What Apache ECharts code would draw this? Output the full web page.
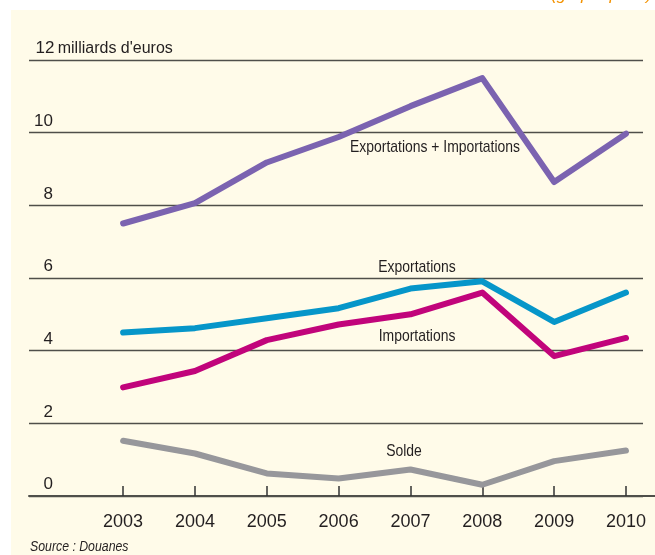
<!DOCTYPE html>
<html>
<head>
<meta charset="utf-8">
<script src="https://cdn.jsdelivr.net/npm/echarts@6/dist/echarts.min.js"></script>
<style>
  html, body { margin: 0; padding: 0; background: #fff; }
  #chart { width: 655px; height: 555px; }
</style>
</head>
<body>
<div id="chart"></div>
<script>
// données (milliards d'euros)
const years = [2003, 2004, 2005, 2006, 2007, 2008, 2009, 2010]
const total = [7.5, 8.06, 9.18, 9.88, 10.73, 11.5, 8.64, 9.97]
const exportations = [4.5, 4.62, 4.89, 5.17, 5.71, 5.91, 4.79, 5.6]
const importations = [2.99, 3.44, 4.29, 4.72, 5.0, 5.6, 3.85, 4.35]
const solde = [1.52, 1.17, 0.62, 0.48, 0.73, 0.31, 0.96, 1.25]
const yTicks = [0, 2, 4, 6, 8, 10, 12]
const unit = "milliards d'euros"

// pas de police étroite installée : on compresse les textes libres
const FONT = '"Liberation Sans", Arial, sans-serif'
const NARROW = 0.82
const TEXT = '#231f20'

const pairs = vals => years.map((y, i) => [y, vals[i]])

const mkLine = (name, vals, color) => ({
  name,
  type: 'line',
  data: pairs(vals),
  symbol: 'none',
  silent: true,
  z: 5,
  lineStyle: { color, width: 6, cap: 'round', join: 'round' }
})

const chart = echarts.init(document.getElementById('chart'), null, { renderer: 'canvas' })

const annot = (text, x, y, size) => ({
  type: 'text',
  x, y,
  scaleX: NARROW,
  z: 20,
  style: {
    text,
    fill: TEXT,
    font: `${size || 17}px ${FONT}`,
    textAlign: 'center',
    textVerticalAlign: 'middle'
  }
})

const option = {
  backgroundColor: '#ffffff',
  animation: false,
  grid: { left: 29, right: 12, top: 60, bottom: 59, containLabel: false },
  xAxis: {
    type: 'value',
    min: 2001.69,
    max: 2010.237,
    splitLine: { show: false },
    axisLine: { show: true, onZero: false, lineStyle: { color: '#4f4f4a', width: 2 } },
    axisTick: {
      show: true,
      inside: true,
      length: 10,
      customValues: years,
      lineStyle: { color: '#333', width: 1.5 }
    },
    axisLabel: {
      customValues: years,
      margin: 17,
      color: TEXT,
      fontFamily: FONT,
      fontSize: 18,
      formatter: v => String(v)
    }
  },
  yAxis: {
    type: 'value',
    min: 0,
    max: 12,
    interval: 2,
    axisLine: { show: false },
    axisTick: { show: false },
    splitLine: { show: true, lineStyle: { color: '#4f4f4a', width: 1.4 } },
    axisLabel: {
      inside: true,
      margin: 8,
      verticalAlign: 'bottom',
      padding: [0, 0, 3, 0],
      color: TEXT,
      fontFamily: FONT,
      fontSize: 17,
      formatter: v => {
        if (!yTicks.includes(v)) return ''
        return v === 12 ? `{n|${v}} {u|${unit}}` : `{n|${v}}`
      },
      rich: {
        n: { width: 16, align: 'right', fontFamily: FONT, fontSize: 17, color: TEXT },
        u: { fontFamily: FONT, fontSize: 16, color: TEXT }
      }
    }
  },
  graphic: [
    {
      type: 'rect',
      z: -10,
      shape: { x: 11, y: 10, width: 660, height: 560 },
      style: { fill: '#fffbe9' }
    },
    {
      type: 'line',
      z: 1,
      shape: { x1: 642, y1: 496, x2: 655, y2: 496 },
      style: { stroke: '#4f4f4a', lineWidth: 2 }
    },
    {
      type: 'text',
      x: 652,
      y: -13,
      z: 20,
      style: {
        text: '(graphique 1)',
        fill: '#f39200',
        font: `italic 17px ${FONT}`,
        textAlign: 'right'
      }
    },
    annot('Exportations + Importations', 435, 147),
    annot('Exportations', 417, 267),
    annot('Importations', 417, 336),
    annot('Solde', 404, 451),
    {
      type: 'text',
      x: 30,
      y: 547,
      scaleX: NARROW,
      z: 20,
      style: {
        text: 'Source : Douanes',
        fill: TEXT,
        font: `italic 15px ${FONT}`,
        textVerticalAlign: 'middle'
      }
    }
  ],
  series: [
    mkLine('Solde', solde, '#97979b'),
    mkLine('Importations', importations, '#c1047b'),
    mkLine('Exportations', exportations, '#0696c9'),
    mkLine('Exportations + Importations', total, '#7b63b0')
  ]
}

chart.setOption(option)
</script>
</body>
</html>
